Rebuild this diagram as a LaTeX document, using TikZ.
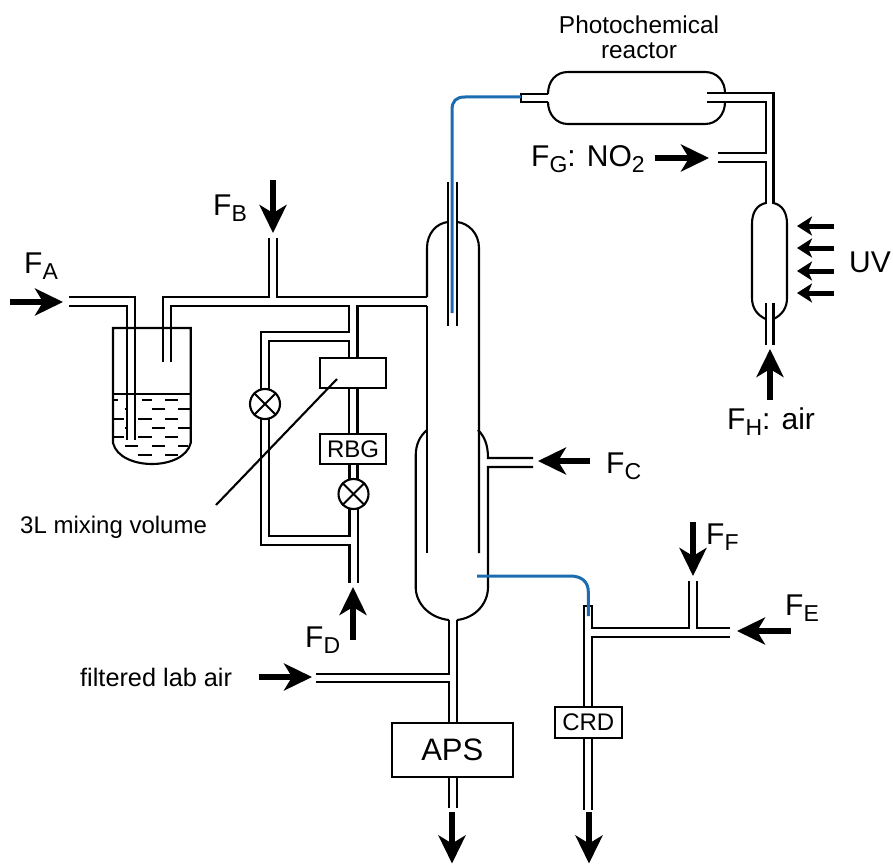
\documentclass[tikz,border=0pt]{standalone}
\usepackage{fontspec}
\setmainfont{Liberation Sans}
\usetikzlibrary{arrows.meta}
\definecolor{capblue}{RGB}{28,108,178}
\newcommand{\fs}[1]{\fontsize{#1pt}{#1pt}\selectfont}
\newcommand{\Fsub}[1]{F{\fs{23}\raisebox{-6.5pt}{#1}}}
\tikzset{
  wall/.style={line width=2.1pt,line cap=butt,line join=miter},
  blueline/.style={line width=3pt,color=capblue},
  flow/.style={line width=5.5pt,-{Stealth[length=28pt,width=27pt,inset=8pt]}},
  smallflow/.style={line width=5pt,-{Stealth[length=15pt,width=19pt,inset=4pt]}},
  boxn/.style={draw,line width=2.1pt,fill=white,inner sep=0pt,font=\fs{24}},
  valve/.style={draw,circle,line width=2.1pt,fill=white,minimum size=30pt,inner sep=0pt},
  lab/.style={anchor=base west,inner sep=0pt,font=\fs{30}},
  txt/.style={inner sep=0pt,font=\fs{24}}
}
\begin{document}
\begin{tikzpicture}[x=1pt,y=-1pt]
\useasboundingbox (0,0) rectangle (893,864);

% bubbler vessel
\draw[wall] (113,328) -- (113,443) .. controls (120,471) and (184,471) .. (190.7,443) -- (190.7,328) -- cycle;
\draw[wall] (113,394) -- (190.7,394);
\foreach \yy/\xlist in {
  400/{113.3/118,141.7/151.7,165/178.3},
  409/{125/128.3,151.7/165,178.3/190},
  419/{113.3/124,138.3/151.7,165/178.3},
  428/{125/128.3,151.7/165,178.3/190},
  437/{113.3/124,138.3/151.7,165/178.3},
  446/{125/138.3,151.7/165,178.3/188},
  455/{138.3/151.7,165/178.3}} {
  \foreach \xa/\xb in \xlist { \draw[line width=1.5pt] (\xa,\yy) -- (\xb,\yy); }
}
% FA tube
\draw[wall] (69,297) -- (135,297) -- (135,440);
\draw[wall] (69,306) -- (127,306) -- (127,440);
% tube out of bubbler to column
\draw[wall] (163,362) -- (163,297) -- (269,297) -- (269,238);
\draw[wall] (277,238) -- (277,297) -- (427,297);
\draw[wall] (170.7,362) -- (170.7,306) -- (349,306) -- (349,332) -- (261,332) -- (261,389);
\draw[wall] (427,306) -- (357.5,306) -- (357.5,358);
\draw[wall] (349,358) -- (349,341) -- (269,341) -- (269,389);
\draw[wall] (349,388) -- (349,434);
\draw[wall] (357.5,388) -- (357.5,434);
\draw[wall] (349.5,464) -- (349.5,479);
\draw[wall] (357.5,464) -- (357.5,479);
\draw[wall] (261,419) -- (261,545) -- (349.5,545) -- (349.5,583);
\draw[wall] (269,419) -- (269,536) -- (349.5,536) -- (349.5,509);
\draw[wall] (358,509) -- (358,583);

% mixing volume, RBG, valves
\node[boxn,minimum width=66pt,minimum height=30pt] (mix) at (353,373) {};
\node[boxn,minimum width=66pt,minimum height=30pt] (rbg) at (353,449) {RBG};
\node[valve] (va) at (265,404) {};
\node[valve] (vb) at (353.5,494) {};
\foreach \v in {va,vb} {
  \draw[line width=2.1pt] (\v.45) -- (\v.225);
  \draw[line width=2.1pt] (\v.135) -- (\v.315);
}
\coordinate (lead) at (216,505);
\draw[line width=2.1pt] (337,379) -- (lead);
\node[txt,anchor=base west] (lmix) at (20,533) {3L mixing volume};

% column
\draw[wall] (427,297) -- (427,248) .. controls (427,233) and (437,223) .. (448,222);
\draw[wall] (457,222) .. controls (468,223) and (479,233) .. (479,248) -- (479,553);
\draw[wall] (427,306) -- (427,553);
\draw[wall] (427,430) .. controls (420,436) and (415.7,444) .. (415.7,456) -- (415.7,587) .. controls (415.7,604) and (430,618) .. (449,620);
\draw[wall] (478,430) .. controls (484,436) and (488,444) .. (488,458) -- (533,458);
\draw[wall] (533,467) -- (488,467) -- (488,587) .. controls (488,604) and (475,618) .. (457,620);
% sample tube
\draw[wall] (447.7,182) -- (447.7,326);
\draw[wall] (456.7,182) -- (456.7,326);
% neck
\draw[wall] (449,620) -- (449,674) -- (316,674);
\draw[wall] (316,682) -- (449,682) -- (449,723);
\draw[wall] (457,620) -- (457,723);
\node[boxn,minimum width=120.7pt,minimum height=53.7pt,font=\fs{31}] (aps) at (452.3,750) {APS};
\draw[wall] (449,777) -- (449,808);
\draw[wall] (457,777) -- (457,808);

% reactor
\draw[wall] (548,94) .. controls (548,81) and (556,72) .. (568,72) -- (705,72) .. controls (717,72) and (725,81) .. (725,93);
\draw[wall] (725,102) .. controls (725,114) and (717,124) .. (705,124) -- (568,124) .. controls (556,124) and (548,114) .. (548,102);
\draw[wall] (548,94) -- (521,94) -- (521,102) -- (548,102);
\draw[wall] (707,93) -- (773.5,93) -- (773.5,204);
\draw[wall] (707,102) -- (765.7,102) -- (765.7,153) -- (718,153);
\draw[wall] (718,162) -- (765.7,162) -- (765.7,204);

% UV vessel
\draw[wall] (765.7,203) .. controls (757,205) and (752,212) .. (752,224) -- (752,298) .. controls (752,308) and (757,315) .. (765.7,319);
\draw[wall] (773.5,203) .. controls (782,205) and (787,212) .. (787,224) -- (787,298) .. controls (787,308) and (782,315) .. (773.5,319);
\draw[wall] (765.7,303) -- (765.7,345);
\draw[wall] (773.5,303) -- (773.5,345);

% CRD line
\draw[wall] (592.3,706) -- (592.3,637) -- (730,637);
\draw[wall] (730,628) -- (696.7,628) -- (696.7,581);
\draw[wall] (689.3,581) -- (689.3,628) -- (592.3,628) -- (592.3,606) -- (584,606) -- (584,706);
\node[boxn,minimum width=66.7pt,minimum height=31.5pt] (crd) at (588.3,722.5) {CRD};
\draw[wall] (584,738) -- (584,810);
\draw[wall] (592.3,738) -- (592.3,810);

% blue capillaries
\draw[blueline] (452,313) -- (452,110) .. controls (452,101) and (456,97) .. (465,97) -- (521,97);
\draw[blueline] (477,576) -- (570,576) .. controls (582,576) and (588.3,582) .. (588.3,592) -- (588.3,616);

% flow arrows
\draw[flow] (10,302) coordinate (fa0) -- (63,302) coordinate (fa1);
\draw[flow] (273,180) coordinate (fb0) -- (273,233) coordinate (fb1);
\draw[flow] (655,158) coordinate (fg0) -- (709,158) coordinate (fg1);
\draw[flow] (590,461) coordinate (fc0) -- (538,461) coordinate (fc1);
\draw[flow] (353,640) coordinate (fd0) -- (353,587) coordinate (fd1);
\draw[flow] (259,677) coordinate (air0) -- (312,677) coordinate (air1);
\draw[flow] (693,522) coordinate (ff0) -- (693,576) coordinate (ff1);
\draw[flow] (791,631) coordinate (fe0) -- (737,631) coordinate (fe1);
\draw[flow] (770,400) coordinate (fh0) -- (770,349) coordinate (fh1);
\draw[flow] (452,812) coordinate (ap0) -- (452,863.5) coordinate (ap1);
\draw[flow] (589,812) coordinate (cr0) -- (589,863.5) coordinate (cr1);
\foreach \yy [count=\i] in {226,248,271,293} {
  \draw[smallflow] (834,\yy) coordinate (uv\i a) -- (797,\yy) coordinate (uv\i b);
}

% labels
\node[lab] (lA) at (24,273) {\Fsub{A}};
\node[lab] (lB) at (213,215) {\Fsub{B}};
\node[lab] (lG) at (531,166) {\Fsub{G}: NO{\fs{23}\raisebox{-6.5pt}{2}}};
\node[lab] (lC) at (606,473) {\Fsub{C}};
\node[lab] (lD) at (305,647) {\Fsub{D}};
\node[lab] (lE) at (785,615) {\Fsub{E}};
\node[lab] (lF) at (706,544) {\Fsub{F}};
\node[lab] (lH) at (727,429) {\Fsub{H}: air};
\node[lab] (lUV) at (849,272) {UV};
\node[txt,anchor=base west,font=\fs{25.3}] (lair) at (80,686) {filtered lab air};
\node[txt,align=center,font=\fs{24.4}] (lreact) at (639,37) {Photochemical\\[1pt]reactor};
\end{tikzpicture}
\end{document}
